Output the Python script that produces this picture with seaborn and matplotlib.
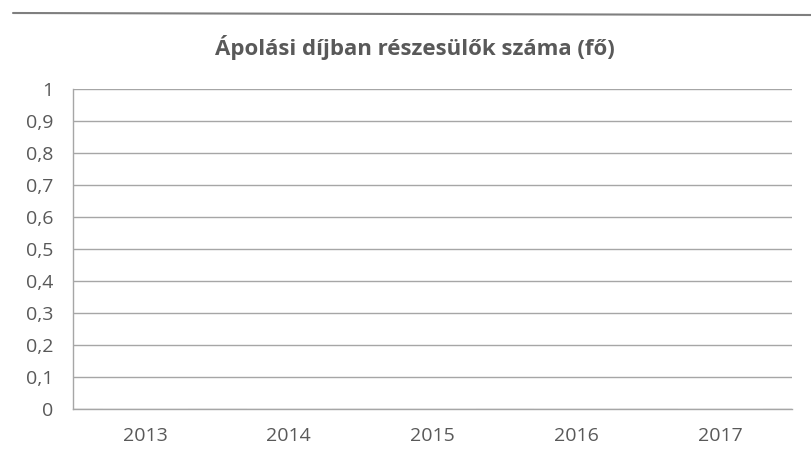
import numpy as np
import pandas as pd
import matplotlib
matplotlib.use("Agg")
import matplotlib.pyplot as plt
import seaborn as sns

# Ápolási díjban részesülők száma - a diagram üres (nincs adat)
years = ["2013", "2014", "2015", "2016", "2017"]
values = [0, 0, 0, 0, 0]
y_ticks = [0, 0.1, 0.2, 0.3, 0.4, 0.5, 0.6, 0.7, 0.8, 0.9, 1]
y_labels = ["0", "0,1", "0,2", "0,3", "0,4", "0,5", "0,6", "0,7", "0,8", "0,9", "1"]

df = pd.DataFrame({"ev": years, "fo": values})

sns.set_style("white")
plt.rcParams['font.family'] = ['Open Sans', 'DejaVu Sans']

fig = plt.figure(figsize=(8.11, 4.61), dpi=100)
ax = fig.add_axes([73 / 811, 1 - 409 / 461, (792 - 73) / 811, (409 - 89) / 461])

sns.barplot(data=df, x="ev", y="fo", color="#4f81bd", ax=ax, width=0.6)

ax.set_ylim(0, 1)
ax.set_xlim(-0.5, len(years) - 0.5)
ax.set_yticks(y_ticks)
ax.set_yticklabels(y_labels)
ax.yaxis.grid(True, color="#a6a6a6", linewidth=1)
ax.set_axisbelow(True)

# osztásjelek a kategóriák között
ax.set_xticks(np.arange(len(years)))
ax.set_xticklabels(years)
ax.set_xticks(np.arange(-0.5, len(years)), minor=True)
ax.tick_params(axis="x", which="major", length=0, pad=13, labelsize=14, labelcolor="#595959")
ax.tick_params(axis="x", which="minor", length=4, color="#a6a6a6", direction="out")
ax.tick_params(axis="y", length=4, color="#a6a6a6", labelsize=14, labelcolor="#595959", pad=10)

for side in ["top", "right"]:
    ax.spines[side].set_visible(False)
for side in ["left", "bottom"]:
    ax.spines[side].set_color("#a6a6a6")
    ax.spines[side].set_linewidth(1)

ax.set_xlabel("")
ax.set_ylabel("")

fig.text(0.512, 1 - 47 / 461, "Ápolási díjban részesülők száma (fő)", ha="center", va="center",
         fontsize=16, fontweight="bold", color="#595959")

# felső keretvonal
fig.add_artist(plt.Line2D([13 / 811, 1.0], [1 - 13 / 461, 1 - 15 / 461], color="#7f7f7f", linewidth=1.5))

fig.savefig("out.png", dpi=100)
